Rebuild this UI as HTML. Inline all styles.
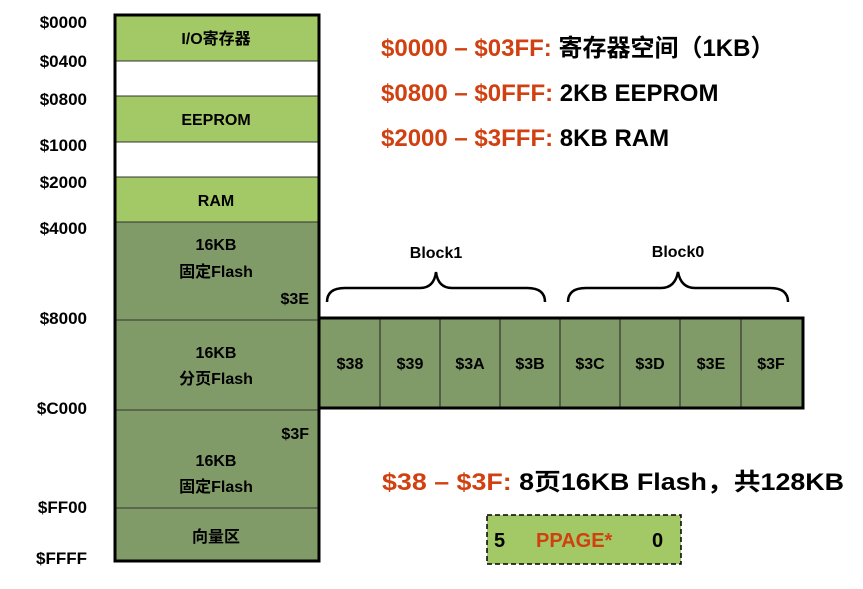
<!DOCTYPE html>
<html><head><meta charset="utf-8"><style>
html,body{margin:0;padding:0;background:#fff}
svg text{font-family:"Liberation Sans","Noto Sans CJK SC",sans-serif;font-weight:bold}
</style></head><body>
<svg width="863" height="584" viewBox="0 0 863 584" xmlns="http://www.w3.org/2000/svg">
<g stroke="#333" stroke-width="1">
<rect x="115" y="15" width="204" height="46" fill="#a2c965"/>
<rect x="115" y="61" width="204" height="35" fill="#fff"/>
<rect x="115" y="96" width="204" height="46" fill="#a2c965"/>
<rect x="115" y="142" width="204" height="35" fill="#fff"/>
<rect x="115" y="177" width="204" height="45" fill="#a2c965"/>
<rect x="115" y="222" width="204" height="98" fill="#809a68"/>
<rect x="115" y="320" width="204" height="90" fill="#809a68"/>
<rect x="115" y="410" width="204" height="98" fill="#809a68"/>
<rect x="115" y="508" width="204" height="53" fill="#809a68"/>
</g>
<rect x="115" y="15" width="204" height="546" fill="none" stroke="#000" stroke-width="3"/>
<g fill="#809a68" stroke="#222" stroke-width="1">
<rect x="320" y="319" width="60" height="89"/><rect x="380" y="319" width="60" height="89"/>
<rect x="440" y="319" width="60" height="89"/><rect x="500" y="319" width="60" height="89"/>
<rect x="560" y="319" width="60" height="89"/><rect x="620" y="319" width="60" height="89"/>
<rect x="680" y="319" width="61" height="89"/><rect x="741" y="319" width="61" height="89"/>
</g>
<rect x="319" y="318" width="484" height="90" fill="none" stroke="#000" stroke-width="3"/>
<g fill="none" stroke="#000" stroke-width="2.5">
<path d="M327 302 Q327 288 345 288 L420 288 Q434 288 436 272 Q438 288 452 288 L527 288 Q545 288 545 302"/>
<path d="M568 302 Q568 288 586 288 L661 288 Q675 288 678 272 Q681 288 695 288 L770 288 Q788 288 788 302"/>
</g>
<g font-size="17" text-anchor="end" fill="#000">
<text x="87" y="28">$0000</text><text x="87" y="67">$0400</text><text x="87" y="105">$0800</text>
<text x="87" y="151">$1000</text><text x="87" y="188">$2000</text><text x="87" y="234">$4000</text>
<text x="87" y="324">$8000</text><text x="87" y="414">$C000</text><text x="87" y="513">$FF00</text>
<text x="87" y="564">$FFFF</text>
</g>
<g font-size="16" text-anchor="middle" fill="#000">
<text x="216" y="44">I/O寄存器</text>
<text x="216" y="125">EEPROM</text>
<text x="216" y="206">RAM</text>
<text x="216" y="250">16KB</text><text x="216" y="277">固定Flash</text>
<text x="216" y="358">16KB</text><text x="216" y="384">分页Flash</text>
<text x="216" y="466">16KB</text><text x="216" y="492">固定Flash</text>
<text x="216" y="542">向量区</text>
<text x="436" y="258">Block1</text><text x="678" y="257">Block0</text>
<text x="350" y="369">$38</text><text x="410" y="369">$39</text><text x="470" y="369">$3A</text><text x="530" y="369">$3B</text>
<text x="590" y="369">$3C</text><text x="650" y="369">$3D</text><text x="711" y="369">$3E</text><text x="771" y="369">$3F</text>
</g>
<g font-size="16" text-anchor="end" fill="#000">
<text x="309" y="304">$3E</text><text x="309" y="439">$3F</text>
</g>
<g font-size="24" fill="#000">
<text x="381" y="56"><tspan fill="#d04010">$0000 – $03FF:</tspan> 寄存器空间（1KB）</text>
<text x="381" y="101"><tspan fill="#d04010">$0800 – $0FFF:</tspan> 2KB EEPROM</text>
<text x="381" y="146"><tspan fill="#d04010">$2000 – $3FFF:</tspan> 8KB RAM</text>
<text x="382" y="490" textLength="462" lengthAdjust="spacingAndGlyphs"><tspan fill="#d04010">$38 – $3F:</tspan> 8页16KB Flash，共128KB</text>
</g>
<rect x="487" y="515" width="194" height="49" fill="#a2c965" stroke="#000" stroke-width="1.5" stroke-dasharray="5,3"/>
<g font-size="20">
<text x="494" y="547" fill="#000">5</text>
<text x="536" y="547" fill="#d04010">PPAGE*</text>
<text x="652" y="547" fill="#000">0</text>
</g>
</svg>
</body></html>
